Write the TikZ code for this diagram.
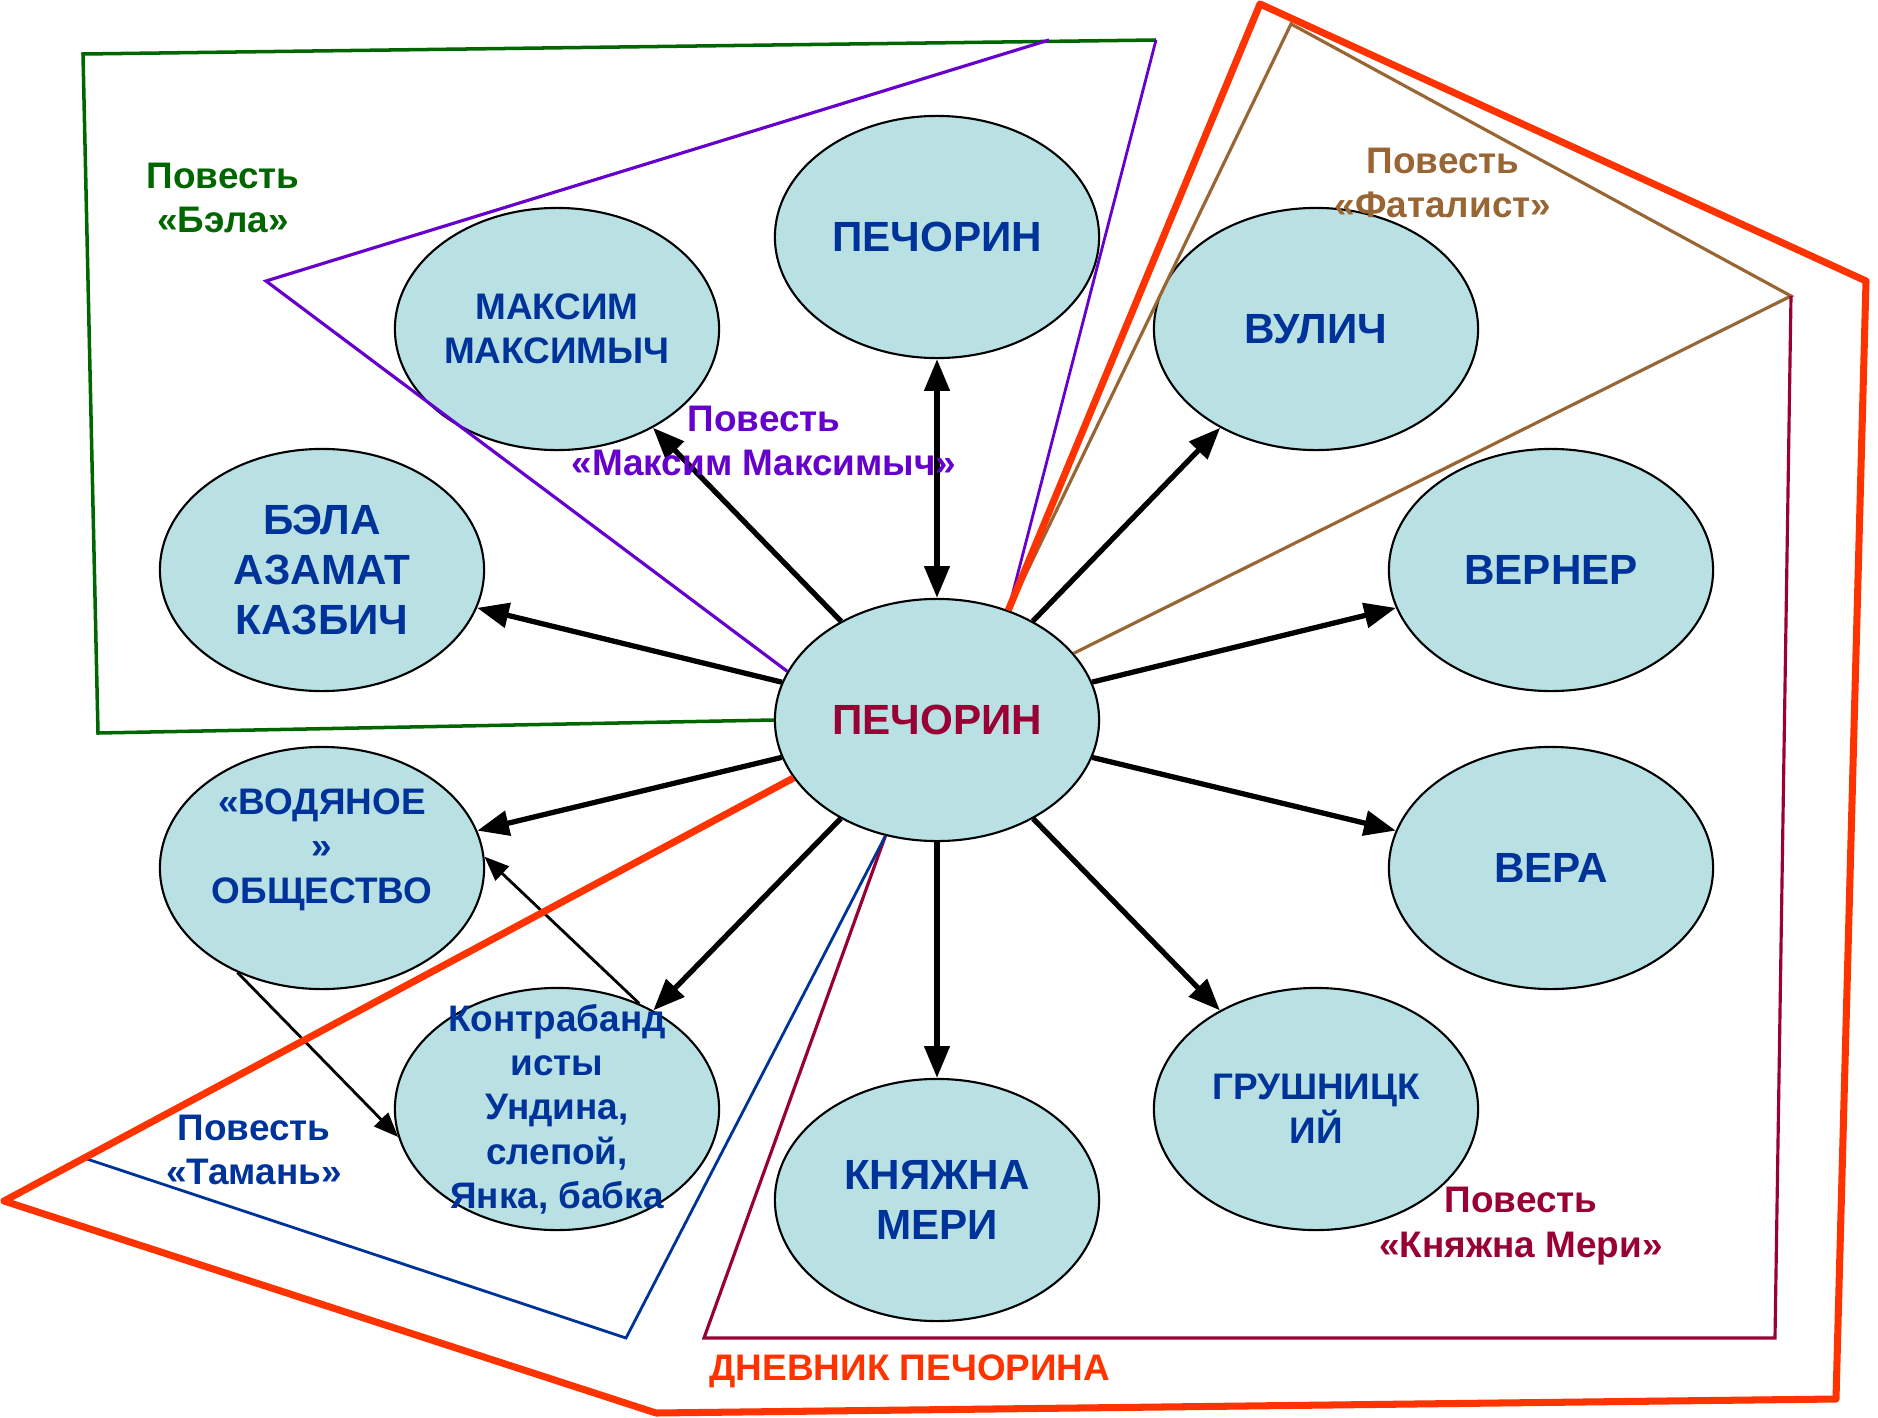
\documentclass[tikz,border=0pt]{standalone}
\usepackage{fontspec}
\setmainfont{Liberation Sans}
\usetikzlibrary{arrows.meta,shapes.geometric}

\definecolor{charfill}{RGB}{185,224,227}
\definecolor{charblue}{RGB}{0,51,153}
\definecolor{crimson}{RGB}{153,0,51}
\definecolor{violet}{RGB}{102,0,204}
\definecolor{leaf}{RGB}{0,102,0}
\definecolor{umber}{RGB}{153,102,51}
\definecolor{diary}{RGB}{255,51,0}

\begin{document}
\begin{tikzpicture}[x=0.01cm,y=-0.01cm,>={Triangle[length=9pt,width=7pt]},
    char/.style={ellipse,draw,line width=0.6pt,fill=charfill,inner sep=0pt,
      minimum width=3.24cm,minimum height=2.42cm,align=center,text=charblue,
      font=\bfseries\fontsize{12}{14.3}\selectfont},
    small/.style={font=\bfseries\fontsize{10.5}{12.6}\selectfont},
    tale/.style={align=center,font=\bfseries\fontsize{10.5}{12.6}\selectfont},
    link/.style={->,line width=1.5pt},
    thinlink/.style={->,line width=0.8pt,>={Triangle[length=7pt,width=5.5pt]}}]
  \useasboundingbox (0,0) rectangle (1878,1418);

  % characters
  \node[char] (top) at (937,237) {ПЕЧОРИН};
  \node[char,small] (maxim) at (557,329) {МАКСИМ\\МАКСИМЫЧ};
  \node[char] (vulich) at (1316,329) {ВУЛИЧ};
  \node[char] (bela) at (322,570) {БЭЛА\\АЗАМАТ\\КАЗБИЧ};
  \node[char] (verner) at (1551,570) {ВЕРНЕР};
  \node[char,text=crimson] (pech) at (937,720) {ПЕЧОРИН};
  \node[char,small] (vod) at (322,868) {«ВОДЯНОЕ\\»\\ОБЩЕСТВО\\\mbox{}};
  \node[char] (vera) at (1551,868) {ВЕРА};
  \node[char,small,inner ysep=-0.6cm] (kontr) at (557,1109)
    {Контрабанд\\исты\\Ундина,\\слепой,\\Янка, бабка};
  \node[char,small] (grush) at (1316,1109) {ГРУШНИЦК\\ИЙ};
  \node[char] (mary) at (937,1200) {КНЯЖНА\\МЕРИ};

  \path[link]
    (pech) edge[<->] (top)
    (pech) edge (maxim)
    (pech) edge (vulich)
    (pech) edge (bela)
    (pech) edge (verner)
    (pech) edge (vod)
    (pech) edge (vera)
    (pech) edge (kontr)
    (pech) edge (grush)
    (pech) edge (mary);

  \path[thinlink]
    (kontr.52) edge (vod.4)
    (vod.231) edge (kontr.190);

  % tales
  \draw[leaf,line width=1pt] (pech.west) -- (98,733) -- (83,54) -- (1156,40);
  \draw[violet,line width=0.9pt] (pech.162) -- (266,281) -- (1049,40);
  \draw[violet,line width=0.8pt] (1156,40) -- (pech.57);
  \draw[umber,line width=0.9pt] (pech.57) -- (1291,24) -- (1791,296) -- (pech.26);
  \draw[crimson,line width=0.9pt] (1791,296) -- (1775,1338) -- (704,1338) -- (pech.246);
  \draw[charblue,line width=0.8pt] (pech.246) -- (626,1338) -- (87,1159);
  \draw[diary,line width=2pt,line join=round] (pech.57) -- (1260,4) -- (1866,281)
    -- (1836,1399) -- (656,1413) -- (4,1201) -- (pech.202);

  \node[tale,text=leaf] (tbela) at (223,198) {Повесть\\«Бэла»};
  \node[tale,text=violet] (tmaxim) at (764,441) {Повесть\\«Максим Максимыч»};
  \node[tale,text=umber] (tfatal) at (1443,183) {Повесть\\«Фаталист»};
  \node[tale,text=charblue] (ttaman) at (254,1150) {Повесть\\«Тамань»};
  \node[tale,text=crimson] (tmary) at (1521,1226) {Повесть\\«Княжна Мери»};
  \node[tale,text=diary] (tdiary) at (910,1371) {ДНЕВНИК ПЕЧОРИНА};
\end{tikzpicture}
\end{document}
